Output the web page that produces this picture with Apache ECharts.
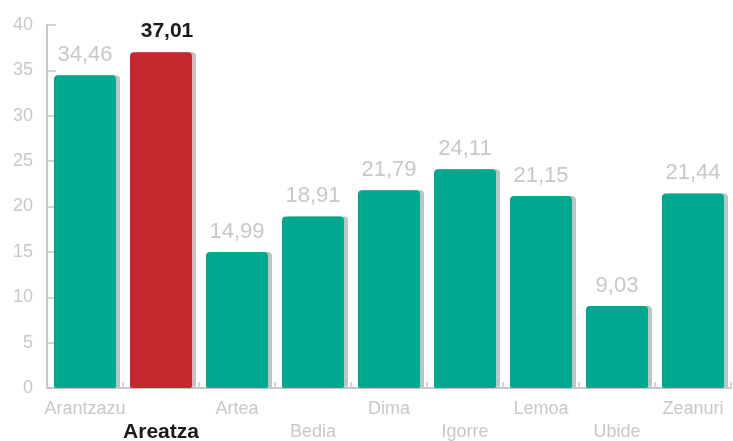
<!DOCTYPE html>
<html><head><meta charset="utf-8">
<script src="https://cdn.jsdelivr.net/npm/echarts@6/dist/echarts.min.js"></script>
<style>html,body{margin:0;padding:0;background:#fff}#c{width:733px;height:441px}</style>
</head><body><div id="c"></div>
<script>
const categories = ['Arantzazu','Areatza','Artea','Bedia','Dima','Igorre','Lemoa','Ubide','Zeanuri'];
const values = [34.46, 37.01, 14.99, 18.91, 21.79, 24.11, 21.15, 9.03, 21.44];
const highlight = 'Areatza';
const yTicks = [0,5,10,15,20,25,30,35,40];

const teal = '#00a88f', red = '#c6262e', gray = '#c8c8c8';
const fontF = '"Liberation Sans", Arial, sans-serif';
const narrowF = '"Liberation Sans Narrow", "Liberation Sans", Arial, sans-serif';
const chart = echarts.init(document.getElementById('c'));
chart.setOption({
  animation: false,
  grid: {left: 47, right: 2, top: 25, bottom: 53, containLabel: false, outerBoundsMode: 'none'},
  xAxis: {
    type: 'category', data: categories,
    axisLine: {lineStyle: {color: gray, width: 2}},
    axisTick: {show: true, inside: true, length: 6, lineStyle: {color: gray, width: 1.5}},
    axisLabel: {
      interval: 0, margin: 10,
      formatter: (v, i) => {
        const pre = i % 2 === 1 ? '\n' : '';
        return v === highlight ? pre + '{h|' + v + '}' : pre + '{n|' + v + '}';
      },
      lineHeight: 23,
      rich: {
        n: {color: gray, fontSize: 18, fontFamily: fontF, lineHeight: 23},
        h: {color: '#1a1a1a', fontSize: 21, fontWeight: 'bold', fontFamily: narrowF, lineHeight: 23}
      }
    }
  },
  yAxis: {
    type: 'value', min: yTicks[0], max: yTicks[yTicks.length-1], interval: 5,
    splitLine: {show: false},
    axisLine: {show: true, lineStyle: {color: gray, width: 2}},
    axisTick: {show: true, inside: true, length: 9, lineStyle: {color: gray, width: 1.5}},
    axisLabel: {color: gray, fontSize: 18, fontFamily: fontF, margin: 14}
  },
  series: [{
    type: 'bar', barWidth: 62,
    data: values.map((v, i) => ({
      value: v,
      itemStyle: {color: categories[i] === highlight ? red : teal},
      label: categories[i] === highlight ? {color: '#1a1a1a', fontWeight: 'bold', fontFamily: narrowF, fontSize: 21, offset: [6, -1]} : {}
    })),
    itemStyle: {borderRadius: [4,4,2,2], shadowColor: '#c2c2c2', shadowOffsetX: 4, shadowOffsetY: 0, shadowBlur: 0},
    label: {
      show: true, position: 'top', distance: 9, color: gray, fontSize: 22, fontFamily: fontF,
      formatter: p => p.value.toFixed(2).replace('.', ',')
    }
  }]
});
</script></body></html>
